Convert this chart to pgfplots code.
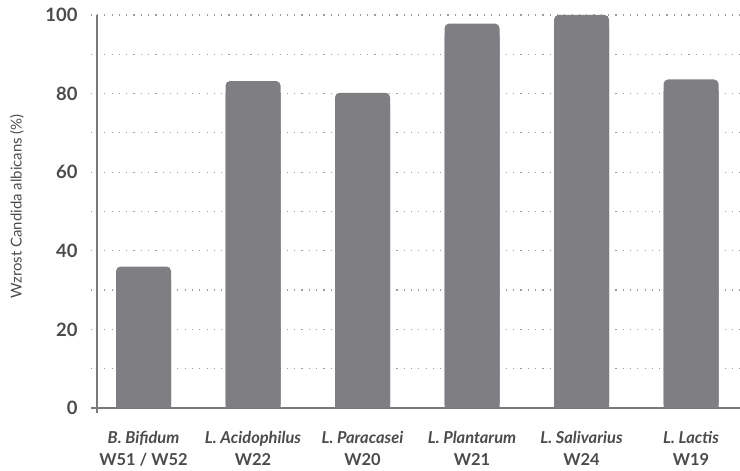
\documentclass[border=0pt]{standalone}
\usepackage{pgfplots}
\usepackage{pgfplotstable}
\pgfplotsset{compat=1.18}
\usepackage{fontspec}
\setmainfont{Lato}

\definecolor{barcol}{HTML}{7F7E83}
\definecolor{axiscol}{HTML}{7A7A7C}
\definecolor{gridcol}{HTML}{9C9C9E}
\definecolor{txtcol}{HTML}{4B4B4D}

% growth of Candida albicans per probiotic strain
\pgfplotstableread{
x v
0 36.0
1 83.2
2 80.2
3 97.8
4 100.0
5 83.6
}\growth

\begin{document}
\begin{tikzpicture}[x=1bp,y=1bp]
\begin{axis}[
  scale only axis,
  width=643bp, height=393bp,
  xmin=-0.425, xmax=5.447,
  ymin=0, ymax=100,
  /pgf/number format/assume math mode=true,
  axis x line*=bottom, axis y line*=left,
  axis line style={draw=axiscol, line width=1.1bp},
  x axis line style={shorten <=-6bp, -},
  y axis line style={shorten <=-5bp, -},
  ytick={0,20,...,100},
  minor ytick={10,30,...,90},
  ymajorgrids, yminorgrids,
  major grid style={draw=gridcol, line width=1.2bp, dash pattern=on 1.2bp off 6.1bp},
  minor grid style={draw=gridcol, line width=1.2bp, dash pattern=on 1.2bp off 6.1bp},
  ytick align=outside,
  major tick length=6bp, minor tick length=6bp,
  ytick style={draw=gridcol, line width=1.2bp, dash pattern=on 1.2bp off 6.1bp},
  every minor tick/.append style={draw=gridcol, line width=1.2bp, dash pattern=on 1.2bp off 6.1bp},
  yticklabel style={font=\fontsize{18.5}{22}\selectfont\bfseries, text=txtcol, xshift=-10bp},
  xtick={0,1,2,3,4,5},
  xtick style={draw=none},
  xticklabels={
    {\textit{B. Bifidum}\\W51 / W52},
    {\textit{L. Acidophilus}\\W22},
    {\textit{L. Paracasei}\\W20},
    {\textit{L. Plantarum}\\W21},
    {\textit{L. Salivarius}\\W24},
    {\textit{L. Lactis}\\W19}},
  xticklabel style={font=\fontsize{16.5}{21.5}\selectfont\bfseries, text=txtcol, align=center, yshift=-14bp},
  ylabel={Wzrost Candida albicans (\%)},
  ylabel style={font=\fontsize{15}{17}\selectfont, text=txtcol, at={(axis description cs:-0.1244,0.513)}, anchor=center},
  ybar, bar width=55bp,
  axis on top=false,
  clip=false,
]
% rounded-top bars: a rounded shape on top of a square-cornered base
\addplot[fill=barcol, draw=none, bar shift=0bp, rounded corners=4.5bp] table[x=x, y=v] {\growth};
\addplot[fill=barcol, draw=none, bar shift=0bp] table[x=x, y expr=\thisrow{v}-3] {\growth};
\end{axis}
\pgfresetboundingbox
\path[use as bounding box] (-97bp,-63bp) rectangle (643bp,408bp);
\end{tikzpicture}
\end{document}
